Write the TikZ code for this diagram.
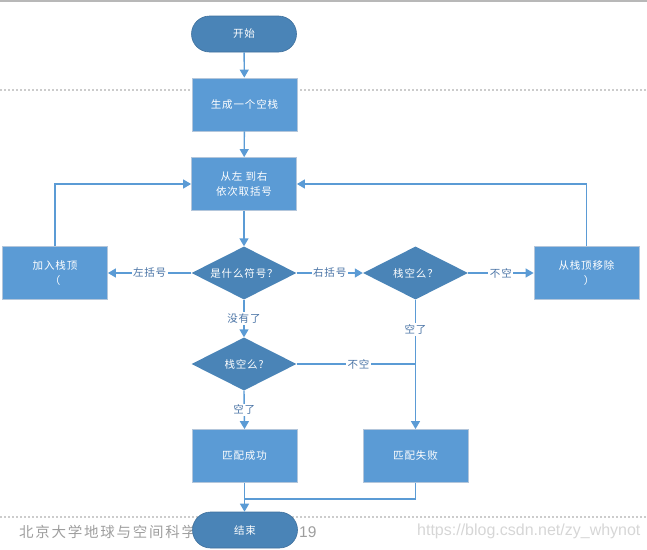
\documentclass[tikz,border=0pt]{standalone}
\usepackage{fontspec}
\setmainfont{Noto Sans CJK SC}
\newfontfamily\nodefont[LetterSpace=8]{Noto Sans CJK SC}
\newfontfamily\wmfont[LetterSpace=12]{Noto Sans CJK SC}
\newfontfamily\urlfont{Liberation Sans}
\usetikzlibrary{shapes.geometric,arrows.meta}
\definecolor{boxblue}{HTML}{5B9BD5}
\definecolor{darkblue}{HTML}{4A84B7}
\definecolor{boxedge}{HTML}{B3C6DB}
\definecolor{lineblue}{HTML}{5B9BD5}
\definecolor{labelcol}{HTML}{4A74A6}
\tikzset{
  every node/.style={font=\nodefont\fontsize{10.5}{15}\selectfont},
  procbox/.style={rectangle, fill=boxblue, draw=boxedge, line width=0.8pt,
    minimum width=105pt, minimum height=53pt, text=white, align=center, inner sep=0pt},
  decision/.style={diamond, aspect=2, fill=darkblue, minimum width=105pt,
    minimum height=53pt, text=white, align=center, inner sep=0pt},
  terminal/.style={rectangle, rounded corners=18pt, fill=darkblue, draw=darkblue!85!black,
    line width=0.6pt, minimum width=105pt, minimum height=36pt, text=white, inner sep=0pt},
  conn/.style={draw=lineblue, line width=1.4pt},
  arr/.style={conn, -{Triangle[length=8pt,width=9pt]}},
  elabel/.style={fill=white, text=labelcol, inner sep=1.5pt, font=\nodefont\fontsize{10.5}{12}\selectfont},
}
\begin{document}
\begin{tikzpicture}[x=1pt,y=-1pt]
\useasboundingbox (0,0) rectangle (647,549);
% page decorations
\draw[color=black!28, line width=1.5pt] (0,0.75) -- (647,0.75);
\draw[color=black!20, line width=1.3pt, dash pattern=on 2pt off 2pt] (0,90) -- (647,90);
\draw[color=black!20, line width=1.3pt, dash pattern=on 2pt off 2pt] (0,517) -- (647,517);
\node[anchor=west, text=black!38, font=\wmfont\fontsize{14.5}{16}\selectfont, inner sep=0pt] (wm1) at (19,532) {北京大学地球与空间科学};
\node[anchor=west, text=black!38, font=\urlfont\fontsize{15.5}{16}\selectfont, inner sep=0pt] (wm2) at (299,532) {19};
\node[anchor=west, text=black!16, font=\urlfont\fontsize{16}{16}\selectfont, inner sep=0pt] (wm3) at (417,531) {https://blog.csdn.net/zy\_whynot};

% nodes
\node[terminal] (start) at (244,34) {开始};
\node[procbox] (init) at (244.5,104.5) {生成一个空栈};
\node[procbox] (read) at (244,184) {从左 到右\\依次取括号};
\node[decision] (what) at (244,273) {是什么符号？};
\node[procbox] (push) at (55,273) {加入栈顶\\（\hspace{0.5em}};
\node[decision] (empty1) at (415.5,273) {栈空么？};
\node[procbox] (pop) at (586.5,273) {从栈顶移除\\\hspace{0.5em}）};
\node[decision] (empty2) at (244,364) {栈空么?};
\node[procbox] (ok) at (244.5,456) {匹配成功};
\node[procbox] (fail) at (415.5,456) {匹配失败};
\node[terminal] (stop) at (245,530) {结束};
\coordinate (join) at (415.5,364);
\coordinate (merge) at (244,499);

% connectors
\draw[arr] (start) -- (init);
\draw[arr] (init) -- (read);
\draw[arr] (read) -- (what);
\draw[arr] (what.west) -- node[elabel] {左括号} (push.east);
\draw[arr] (what.east) -- node[elabel] {右括号} (empty1.west);
\draw[arr] (empty1.east) -- node[elabel] {不空} (pop.west);
\draw[arr] (push.north) |- (read.west);
\draw[arr] (pop.north) |- (read.east);
\draw[arr] (what.south) -- node[elabel] {没有了} (empty2.north);
\draw[arr] (empty1.south) -- node[elabel, pos=0.23] {空了} (fail.north);
\draw[conn] (empty2.east) -- node[elabel, pos=0.52] {不空} (join);
\draw[arr] (empty2.south) -- node[elabel] {空了} (ok.north);
\draw[conn] (fail.south) |- (merge);
\draw[arr] (ok.south) -- (stop.north -| ok.south);
\end{tikzpicture}
\end{document}
